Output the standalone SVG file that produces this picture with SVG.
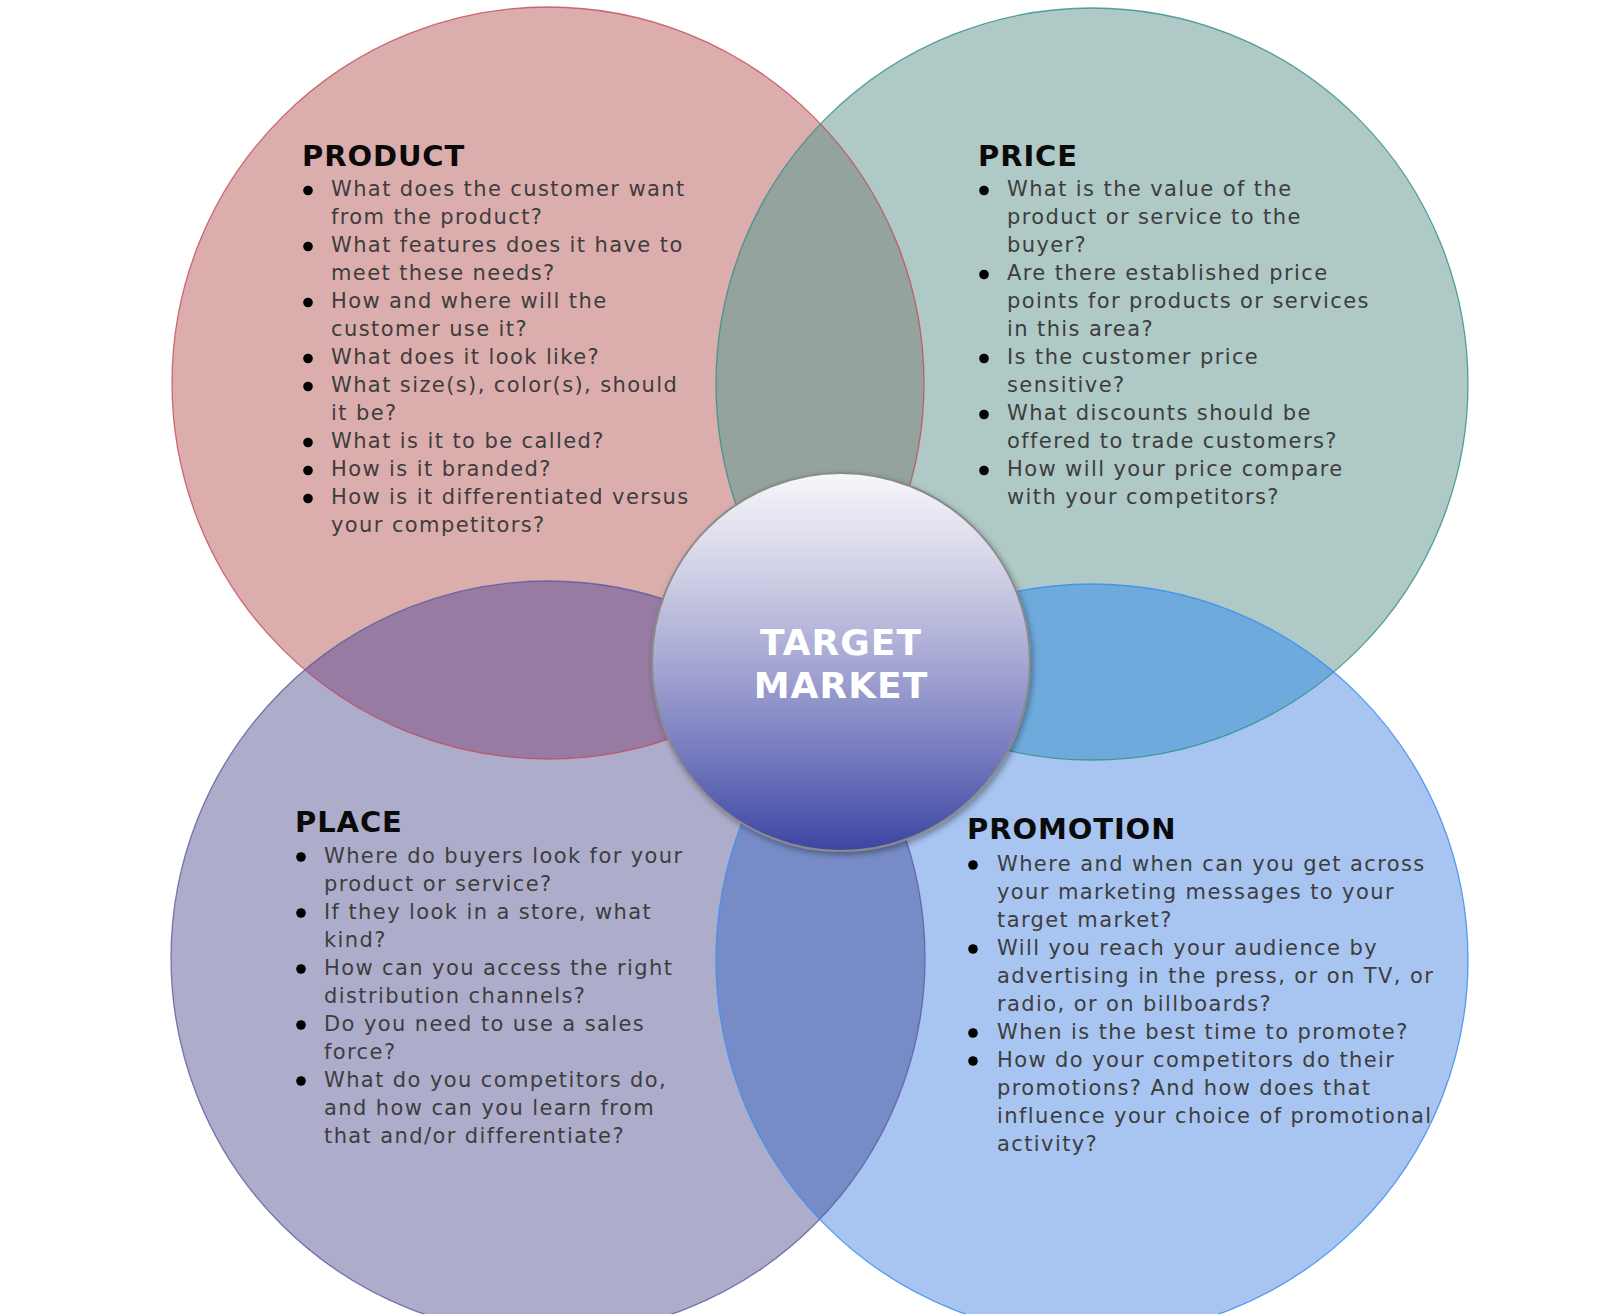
<svg xmlns="http://www.w3.org/2000/svg" width="1618" height="1314" viewBox="0 0 1618 1314">
<style>
.h{font-family:Verdana,"DejaVu Sans",sans-serif;font-weight:bold;font-size:29px;fill:#0a0a0a;letter-spacing:0.9px}
.t{font-family:Verdana,"DejaVu Sans",sans-serif;font-size:21px;fill:#3d3d3d;letter-spacing:1.4px}
.tm{font-family:Verdana,"DejaVu Sans",sans-serif;font-weight:bold;font-size:36px;fill:#ffffff;letter-spacing:1px}
.b{fill:#000}
.edge{fill:none;stroke-width:1.3}
</style>
<defs>
<clipPath id="cProduct"><circle cx="548" cy="383" r="376"/></clipPath>
<clipPath id="cPrice"><circle cx="1092" cy="384" r="376"/></clipPath>
<clipPath id="cPlace"><circle cx="548" cy="958" r="377"/></clipPath>
<clipPath id="cPromo"><circle cx="1092" cy="960" r="376"/></clipPath>
<linearGradient id="gTM" x1="0" y1="0" x2="0" y2="1">
<stop offset="0" stop-color="#f7f7fb"/>
<stop offset="0.25" stop-color="#d2d2e7"/>
<stop offset="0.5" stop-color="#a6a8d3"/>
<stop offset="0.75" stop-color="#7579bd"/>
<stop offset="1" stop-color="#3b45a2"/>
</linearGradient>
<filter id="sh" x="-20%" y="-20%" width="140%" height="140%">
<feDropShadow dx="2" dy="3" stdDeviation="3" flood-color="#000" flood-opacity="0.35"/>
</filter>
</defs>
<rect width="1618" height="1314" fill="#ffffff"/>

<g id="product">
<circle cx="548" cy="383" r="376" fill="#dcadad"/>
<text class="h" x="302" y="166">PRODUCT</text>
<g class="b">
<circle cx="308" cy="190.5" r="4.8"/><circle cx="308" cy="246.5" r="4.8"/><circle cx="308" cy="302.5" r="4.8"/><circle cx="308" cy="358.5" r="4.8"/><circle cx="308" cy="386.5" r="4.8"/><circle cx="308" cy="442.5" r="4.8"/><circle cx="308" cy="470.5" r="4.8"/><circle cx="308" cy="498.5" r="4.8"/>
</g>
<text class="t" x="331">
<tspan x="331" y="196">What does the customer want</tspan>
<tspan x="331" y="224">from the product?</tspan>
<tspan x="331" y="252">What features does it have to</tspan>
<tspan x="331" y="280">meet these needs?</tspan>
<tspan x="331" y="308">How and where will the</tspan>
<tspan x="331" y="336">customer use it?</tspan>
<tspan x="331" y="364">What does it look like?</tspan>
<tspan x="331" y="392">What size(s), color(s), should</tspan>
<tspan x="331" y="420">it be?</tspan>
<tspan x="331" y="448">What is it to be called?</tspan>
<tspan x="331" y="476">How is it branded?</tspan>
<tspan x="331" y="504">How is it differentiated versus</tspan>
<tspan x="331" y="532">your competitors?</tspan>
</text>
</g>

<g id="price">
<circle cx="1092" cy="384" r="376" fill="#afcac6"/>
<text class="h" x="978" y="166">PRICE</text>
<g class="b">
<circle cx="984" cy="190.5" r="4.8"/><circle cx="984" cy="274.5" r="4.8"/><circle cx="984" cy="358.5" r="4.8"/><circle cx="984" cy="414.5" r="4.8"/><circle cx="984" cy="470.5" r="4.8"/>
</g>
<text class="t">
<tspan x="1007" y="196">What is the value of the</tspan>
<tspan x="1007" y="224">product or service to the</tspan>
<tspan x="1007" y="252">buyer?</tspan>
<tspan x="1007" y="280">Are there established price</tspan>
<tspan x="1007" y="308">points for products or services</tspan>
<tspan x="1007" y="336">in this area?</tspan>
<tspan x="1007" y="364">Is the customer price</tspan>
<tspan x="1007" y="392">sensitive?</tspan>
<tspan x="1007" y="420">What discounts should be</tspan>
<tspan x="1007" y="448">offered to trade customers?</tspan>
<tspan x="1007" y="476">How will your price compare</tspan>
<tspan x="1007" y="504">with your competitors?</tspan>
</text>
</g>

<g id="place">
<circle cx="548" cy="958" r="377" fill="#adadcb"/>
<text class="h" x="295" y="832">PLACE</text>
<g class="b">
<circle cx="301" cy="857" r="4.8"/><circle cx="301" cy="913" r="4.8"/><circle cx="301" cy="969" r="4.8"/><circle cx="301" cy="1025" r="4.8"/><circle cx="301" cy="1081" r="4.8"/>
</g>
<text class="t">
<tspan x="324" y="863">Where do buyers look for your</tspan>
<tspan x="324" y="891">product or service?</tspan>
<tspan x="324" y="919">If they look in a store, what</tspan>
<tspan x="324" y="947">kind?</tspan>
<tspan x="324" y="975">How can you access the right</tspan>
<tspan x="324" y="1003">distribution channels?</tspan>
<tspan x="324" y="1031">Do you need to use a sales</tspan>
<tspan x="324" y="1059">force?</tspan>
<tspan x="324" y="1087">What do you competitors do,</tspan>
<tspan x="324" y="1115">and how can you learn from</tspan>
<tspan x="324" y="1143">that and/or differentiate?</tspan>
</text>
</g>

<g id="promotion">
<circle cx="1092" cy="960" r="376" fill="#a8c5f2"/>
<text class="h" x="967" y="839">PROMOTION</text>
<g class="b">
<circle cx="973" cy="865" r="4.8"/><circle cx="973" cy="949" r="4.8"/><circle cx="973" cy="1033" r="4.8"/><circle cx="973" cy="1061" r="4.8"/>
</g>
<text class="t">
<tspan x="997" y="871">Where and when can you get across</tspan>
<tspan x="997" y="899">your marketing messages to your</tspan>
<tspan x="997" y="927">target market?</tspan>
<tspan x="997" y="955">Will you reach your audience by</tspan>
<tspan x="997" y="983">advertising in the press, or on TV, or</tspan>
<tspan x="997" y="1011">radio, or on billboards?</tspan>
<tspan x="997" y="1039">When is the best time to promote?</tspan>
<tspan x="997" y="1067">How do your competitors do their</tspan>
<tspan x="997" y="1095">promotions? And how does that</tspan>
<tspan x="997" y="1123">influence your choice of promotional</tspan>
<tspan x="997" y="1151">activity?</tspan>
</text>
</g>

<g id="overlaps">
<circle cx="548" cy="383" r="376" fill="#94a39e" clip-path="url(#cPrice)"/>
<circle cx="548" cy="383" r="376" fill="#977ba2" clip-path="url(#cPlace)"/>
<circle cx="1092" cy="384" r="376" fill="#6faadd" clip-path="url(#cPromo)"/>
<circle cx="548" cy="958" r="377" fill="#778cc7" clip-path="url(#cPromo)"/>
<circle class="edge" cx="548" cy="383" r="376" stroke="#c44a5a" stroke-opacity="0.8"/>
<circle class="edge" cx="1092" cy="384" r="376" stroke="#2f8f86" stroke-opacity="0.8"/>
<circle class="edge" cx="548" cy="958" r="377" stroke="#5a5aa0" stroke-opacity="0.8"/>
<circle class="edge" cx="1092" cy="960" r="376" stroke="#3d8ef0" stroke-opacity="0.85"/>
</g>

<g id="connectors"/>

<g id="target-market">
<circle cx="841" cy="662" r="189" fill="url(#gTM)" stroke="#8a8a8a" stroke-width="2" filter="url(#sh)"/>
<text class="tm" x="841" y="655" text-anchor="middle">TARGET</text>
<text class="tm" x="841" y="698" text-anchor="middle">MARKET</text>
</g>
</svg>
